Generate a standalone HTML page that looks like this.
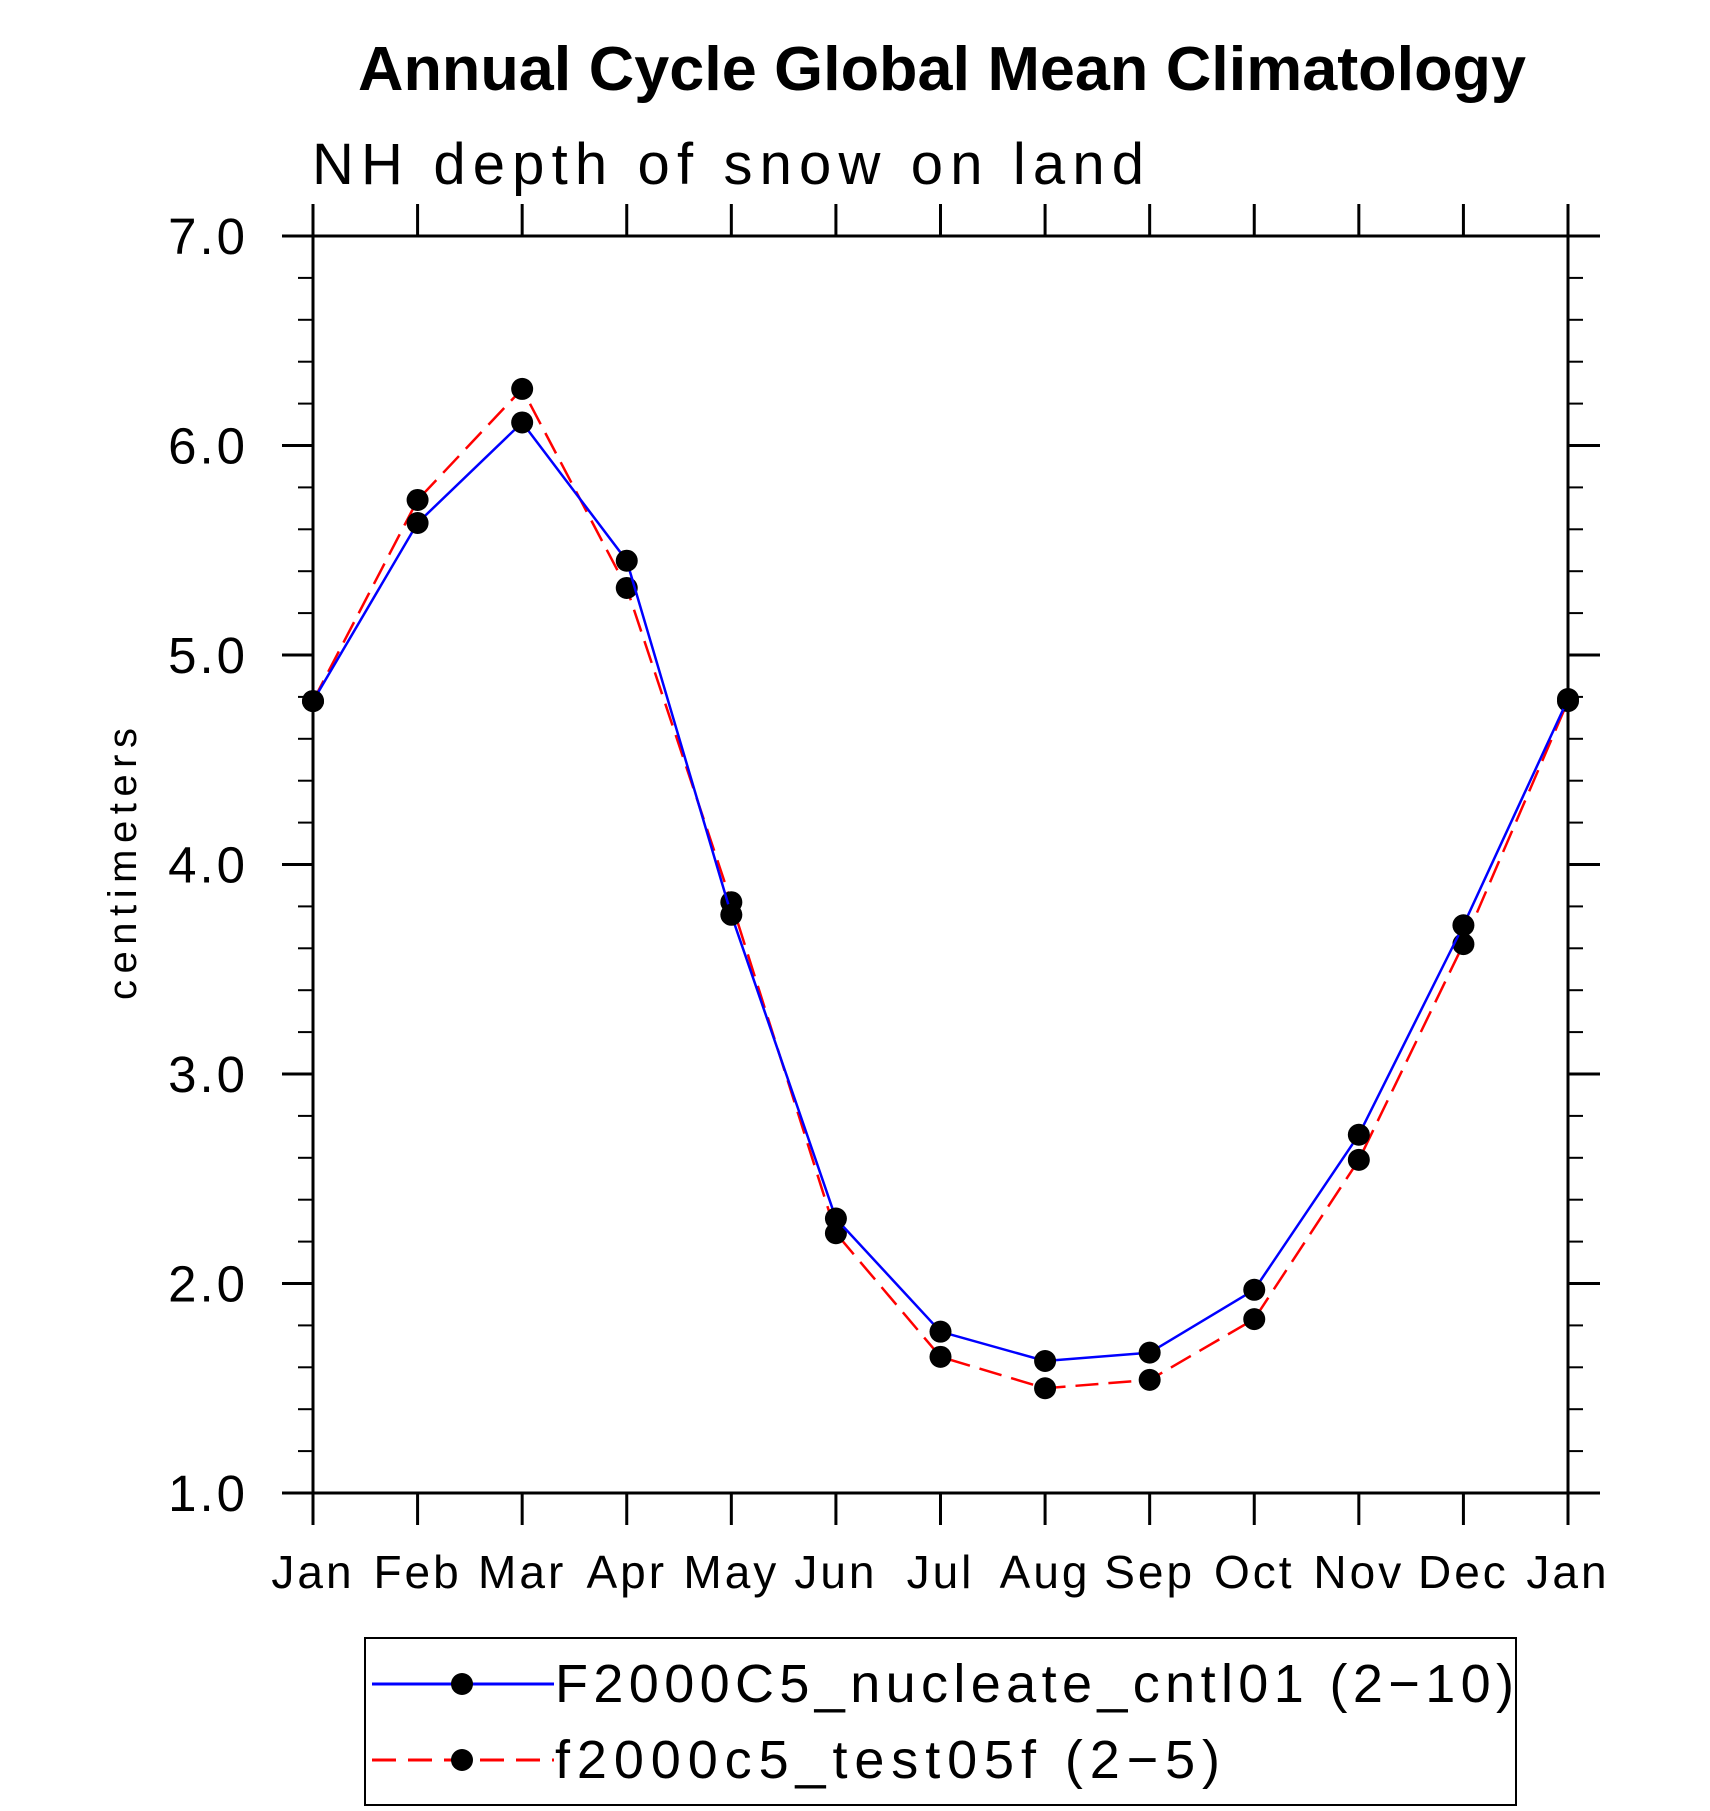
<!DOCTYPE html>
<html><head><meta charset="utf-8"><style>
html,body{margin:0;padding:0;background:#fff;}
svg{display:block;}
text{font-family:"Liberation Sans","DejaVu Sans",sans-serif;}
</style></head><body>
<svg id="chart" width="1710" height="1811" viewBox="0 0 1710 1811" xmlns="http://www.w3.org/2000/svg">
<text x="942" y="90" text-anchor="middle" font-size="62" font-weight="bold" textLength="1168" lengthAdjust="spacingAndGlyphs">Annual Cycle Global Mean Climatology</text>
<text x="312" y="184" font-size="58" font-weight="normal" textLength="832" lengthAdjust="spacing">NH depth of snow on land</text>
<text transform="translate(136,864) rotate(-90)" text-anchor="middle" font-size="40" textLength="272" lengthAdjust="spacing">centimeters</text>
<g id="axes"></g>
<g id="series"></g>
<rect x="365" y="1638" width="1151" height="167" fill="none" stroke="#000" stroke-width="2"/>
<g>
<line x1="372" y1="1684" x2="554" y2="1684" stroke="#0000ff" stroke-width="3"/>
<circle cx="462" cy="1684" r="11" fill="#000"/>
<text x="555" y="1702" font-size="54" textLength="959" lengthAdjust="spacing">F2000C5_nucleate_cntl01 (2−10)</text>
</g>
<g>
<line x1="372" y1="1760" x2="554" y2="1760" stroke="#ff0000" stroke-width="3" stroke-dasharray="24,12"/>
<circle cx="462" cy="1760" r="11" fill="#000"/>
<text x="555" y="1778" font-size="54" textLength="665" lengthAdjust="spacing">f2000c5_test05f (2−5)</text>
</g>
</svg>
<script>
const months = ["Jan","Feb","Mar","Apr","May","Jun","Jul","Aug","Sep","Oct","Nov","Dec","Jan"];
const cntlValues = [4.78,5.63,6.11,5.45,3.76,2.31,1.77,1.63,1.67,1.97,2.71,3.71,4.79];
const testValues = [4.78,5.74,6.27,5.32,3.82,2.24,1.65,1.50,1.54,1.83,2.59,3.62,4.78];
const yTicks = [1,2,3,4,5,6,7];
const yTickLabels = ["1.0","2.0","3.0","4.0","5.0","6.0","7.0"];

const L=313,R=1568,T=236,B=1493,yMin=1,yMax=7;
const xs=i=>L+(R-L)*i/(months.length-1);
const ys=v=>B-(B-T)*(v-yMin)/(yMax-yMin);
const NS="http://www.w3.org/2000/svg";
function mk(tag,attrs,parent){const e=document.createElementNS(NS,tag);for(const k in attrs)e.setAttribute(k,attrs[k]);parent.appendChild(e);return e;}
const axes=document.getElementById('axes');
const frame=mk('rect',{x:L,y:T,width:R-L,height:B-T,fill:'none',stroke:'#000','stroke-width':3},axes);


months.forEach((m,i)=>{
  const x=xs(i);
  const tb=mk('line',{x1:x,y1:B,x2:x,y2:B+32,stroke:'#000','stroke-width':3},axes);
  
  
  const tt=mk('line',{x1:x,y1:T,x2:x,y2:T-32,stroke:'#000','stroke-width':3},axes);
  
  
  const t=mk('text',{x:x,y:1588,'text-anchor':'middle','font-size':46,'letter-spacing':'3'},axes);
  t.textContent=m;
  
  
});
yTicks.forEach((v,i)=>{
  const y=ys(v);
  const a=mk('line',{x1:L-31,y1:y,x2:L,y2:y,stroke:'#000','stroke-width':3},axes);
  
  
  const b=mk('line',{x1:R,y1:y,x2:R+32,y2:y,stroke:'#000','stroke-width':3},axes);
  
  
  const t=mk('text',{x:248,y:y+18,'text-anchor':'end','font-size':51,'letter-spacing':'3'},axes);
  t.textContent=yTickLabels[i];
  
  
  if(i<yTicks.length-1){
    for(let k=1;k<5;k++){
      const yy=ys(v+k*0.2);
      const c=mk('line',{x1:L-15,y1:yy,x2:L,y2:yy,stroke:'#000','stroke-width':2},axes);
      
      
      const d=mk('line',{x1:R,y1:yy,x2:R+15,y2:yy,stroke:'#000','stroke-width':2},axes);
      
      
    }
  }
});
const series=document.getElementById('series');
function drawSeries(vals,color,dash,name){
  const pts=vals.map((v,i)=>xs(i)+','+ys(v)).join(' ');
  const pl=mk('polyline',{points:pts,fill:'none',stroke:color,'stroke-width':2.5},series);
  if(dash)pl.setAttribute('stroke-dasharray',dash);
  
  
  vals.forEach((v,i)=>{
    const c=mk('circle',{cx:xs(i),cy:ys(v),r:11,fill:'#000'},series);
    
    
  });
}
drawSeries(testValues,'#ff0000','23,10','test05f');
drawSeries(cntlValues,'#0000ff',null,'cntl01');
</script>
</body></html>
